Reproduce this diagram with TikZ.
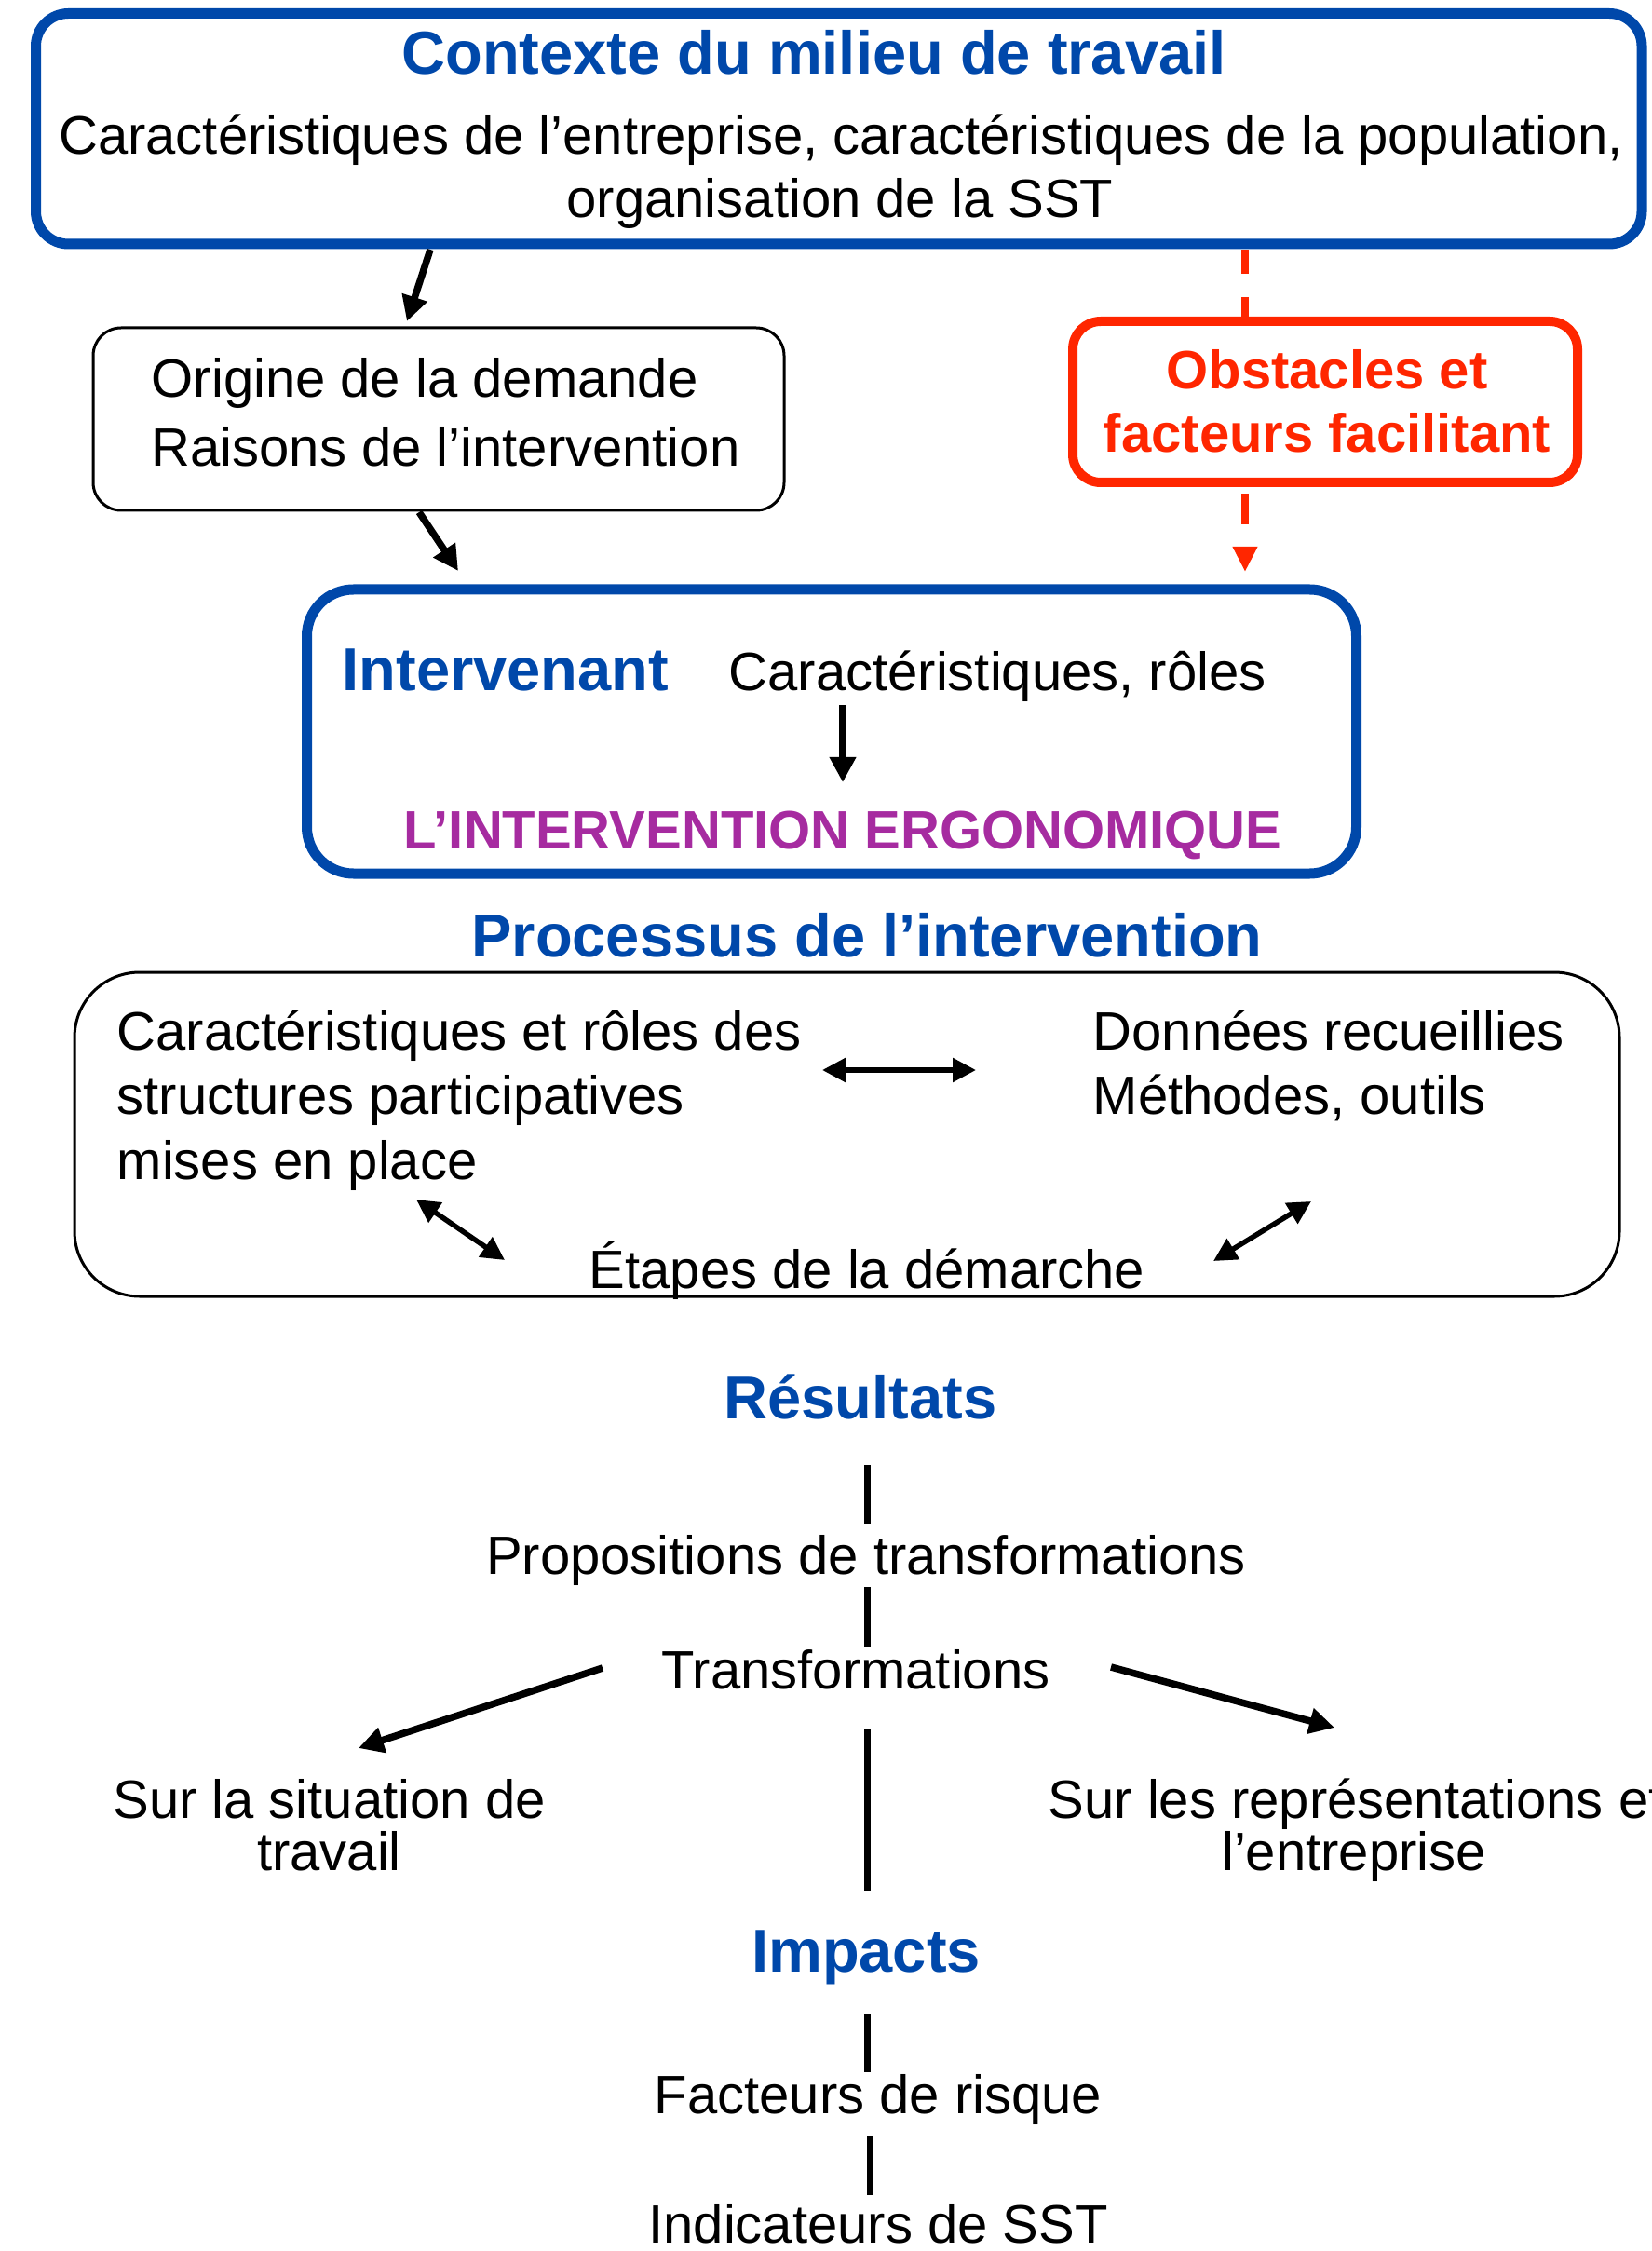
\documentclass[tikz,border=0pt]{standalone}
\usepackage{fontspec}
\setmainfont{Liberation Sans}
\usepackage{tikz}
\usetikzlibrary{arrows.meta,calc}
\definecolor{ctxblue}{RGB}{0,72,170}
\definecolor{obsred}{RGB}{255,38,0}
\definecolor{ergpurple}{RGB}{166,43,160}
\newcommand{\txtsize}{\fontsize{16.5}{19.8}\selectfont}
\newcommand{\headsize}{\fontsize{18.5}{22}\selectfont\bfseries}

\begin{document}
\begin{tikzpicture}[
    txt/.style={inner sep=0pt, font=\txtsize, anchor=base},
    head/.style={inner sep=0pt, font=\headsize, text=ctxblue, anchor=base},
    bluebox/.style={draw=ctxblue, line width=0.11cm, inner sep=0pt},
    thinbox/.style={draw=black, line width=0.03cm, inner sep=0pt},
    arr/.style={line width=0.075cm, -{Triangle[length=0.27cm,width=0.27cm]}},
    dblarr/.style={line width=0.055cm, {Triangle[length=0.25cm,width=0.25cm]}-{Triangle[length=0.25cm,width=0.25cm]}},
    link/.style={line width=0.07cm},
    reddash/.style={draw=obsred, line width=0.08cm, dash pattern=on 0.26cm off 0.25cm},
]
    \useasboundingbox (0,0) rectangle (17.73,-24.17);

    % Work context
    \node[bluebox, rounded corners=0.35cm, minimum width=17.245cm, minimum height=2.475cm] (ctx) at (9.0075,-1.3825) {};
    \node[head] (ctxtitle) at (8.74,-0.80) {Contexte du milieu de travail};
    \node[txt] (ctxline1) at (9.03,-1.66) {Caractéristiques de l’entreprise, caractéristiques de la population,};
    \node[txt] (ctxline2) at (9.02,-2.34) {organisation de la SST};

    % Origin of the request
    \node[thinbox, rounded corners=0.3cm, minimum width=7.42cm, minimum height=1.96cm] (orig) at (4.71,-4.50) {};
    \node[txt, anchor=base west] (origline1) at (1.62,-4.27) {Origine de la demande};
    \node[txt, anchor=base west] (origline2) at (1.62,-5.01) {Raisons de l’intervention};

    % Obstacles
    \node[draw=obsred, line width=0.10cm, rounded corners=0.3cm, inner sep=0pt, minimum width=5.42cm, minimum height=1.73cm] (obs) at (14.23,-4.315) {};
    \node[txt, text=obsred, font=\txtsize\bfseries] (obsline1) at (14.25,-4.18) {Obstacles et};
    \node[txt, text=obsred, font=\txtsize\bfseries] (obsline2) at (14.25,-4.86) {facteurs facilitant};

    % Practitioner
    \node[bluebox, rounded corners=0.5cm, minimum width=11.27cm, minimum height=3.05cm] (intv) at (8.93,-7.855) {};
    \node[head, anchor=base west] (intvname) at (3.67,-7.42) {Intervenant};
    \node[txt, anchor=base west] (intvcar) at (7.82,-7.42) {Caractéristiques, rôles};
    \node[txt, text=ergpurple, font=\txtsize\bfseries] (ergo) at (9.05,-9.11) {L’INTERVENTION ERGONOMIQUE};

    % Process
    \node[head] (proctitle) at (9.31,-10.27) {Processus de l’intervention};
    \node[thinbox, rounded corners=0.7cm, minimum width=16.59cm, minimum height=3.48cm] (proc) at (9.095,-12.18) {};
    \node[txt, anchor=base west] (struct1) at (1.25,-11.27) {Caractéristiques et rôles des};
    \node[txt, anchor=base west] (struct2) at (1.25,-11.96) {structures participatives};
    \node[txt, anchor=base west] (struct3) at (1.25,-12.66) {mises en place};
    \node[txt, anchor=base west] (data1) at (11.73,-11.27) {Données recueillies};
    \node[txt, anchor=base west] (data2) at (11.73,-11.96) {Méthodes, outils};
    \node[txt] (etapes) at (9.31,-13.83) {Étapes de la démarche};

    % Results
    \node[head] (res) at (9.24,-15.23) {Résultats};
    \node[txt] (prop) at (9.30,-16.90) {Propositions de transformations};
    \node[txt] (transf) at (9.19,-18.13) {Transformations};
    \node[txt] (sursit1) at (3.535,-19.52) {Sur la situation de};
    \node[txt] (sursit2) at (3.535,-20.08) {travail};
    \node[txt, anchor=base west] (surrep1) at (11.25,-19.52) {Sur les représentations et};
    \node[txt] (surrep2) at (14.54,-20.08) {l’entreprise};

    % Impacts
    \node[head] (imp) at (9.30,-21.17) {Impacts};
    \node[txt] (risk) at (9.43,-22.69) {Facteurs de risque};
    \node[txt] (indic) at (9.43,-24.08) {Indicateurs de SST};

    % connector ends
    \coordinate (ctxout) at (4.62,-2.68);
    \coordinate (origin) at (4.37,-3.45);
    \coordinate (origout) at (4.50,-5.50);
    \coordinate (intvin) at (4.92,-6.13);
    \coordinate (ctxred) at (13.37,-2.68);
    \coordinate (obsin) at (13.37,-3.40);
    \coordinate (obsout) at (13.37,-5.30);
    \coordinate (intvred) at (13.37,-6.14);
    \coordinate (carout) at (9.05,-7.57);
    \coordinate (ergoin) at (9.05,-8.40);
    \coordinate (structend) at (8.83,-11.49);
    \coordinate (dataend) at (10.48,-11.49);
    \coordinate (structlow) at (4.47,-12.88);
    \coordinate (etapesleft) at (5.42,-13.53);
    \coordinate (datalow) at (14.08,-12.90);
    \coordinate (etapesright) at (13.03,-13.54);
    \coordinate (res1) at (9.31,-15.73);
    \coordinate (res2) at (9.31,-16.36);
    \coordinate (prop1) at (9.31,-17.04);
    \coordinate (prop2) at (9.31,-17.68);
    \coordinate (transfleft) at (6.47,-17.91);
    \coordinate (sitin) at (3.85,-18.77);
    \coordinate (transfright) at (11.93,-17.90);
    \coordinate (repin) at (14.33,-18.55);
    \coordinate (transf1) at (9.31,-18.56);
    \coordinate (transf2) at (9.31,-20.30);
    \coordinate (imp1) at (9.31,-21.62);
    \coordinate (imp2) at (9.31,-22.25);
    \coordinate (risk1) at (9.34,-22.93);
    \coordinate (risk2) at (9.34,-23.57);

    % arrows
    \draw[arr] (ctxout) -- (origin);
    \draw[arr] (origout) -- (intvin);
    \draw[reddash] (ctxred) -- (obsin);
    \draw[reddash, dash pattern=on 0.33cm off 0.3cm, -{Triangle[length=0.27cm,width=0.25cm]}] (obsout) -- (intvred);
    \draw[arr] (carout) -- (ergoin);
    \draw[dblarr] (structend) -- (dataend);
    \draw[dblarr] (structlow) -- (etapesleft);
    \draw[dblarr] (datalow) -- (etapesright);
    \draw[link] (res1) -- (res2);
    \draw[link] (prop1) -- (prop2);
    \draw[arr] (transfleft) -- (sitin);
    \draw[arr] (transfright) -- (repin);
    \draw[link] (transf1) -- (transf2);
    \draw[link] (imp1) -- (imp2);
    \draw[link] (risk1) -- (risk2);
\end{tikzpicture}
\end{document}
